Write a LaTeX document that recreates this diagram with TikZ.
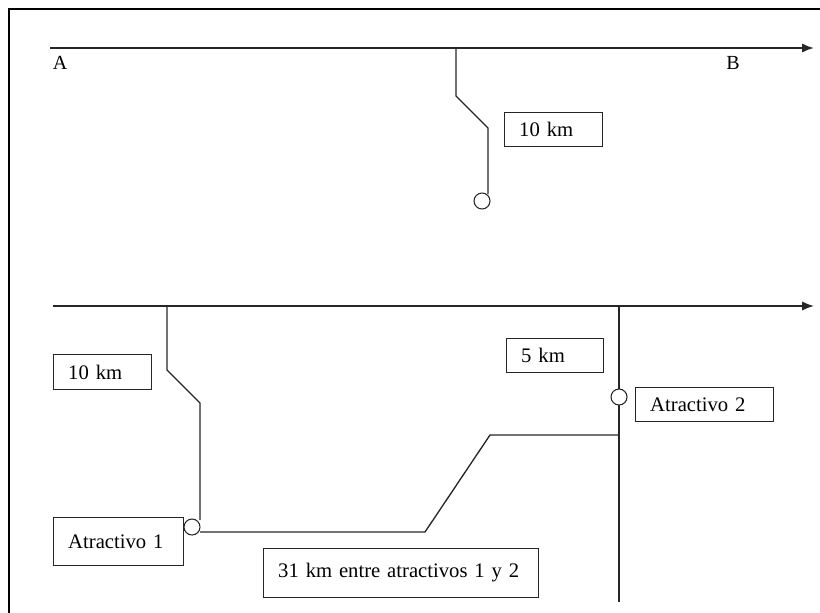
\documentclass[tikz,border=0pt]{standalone}
\usepackage{fontspec}
\setmainfont{Liberation Serif}
\usetikzlibrary{arrows.meta}
\definecolor{ink}{HTML}{262626}
\newcommand{\boxfont}{\fontsize{15.5pt}{18pt}\selectfont}
\newcommand{\abfont}{\fontsize{15pt}{17pt}\selectfont}
\begin{document}
\begin{tikzpicture}[x=0.75pt,y=-0.75pt,
  road/.style={draw=ink, line width=1pt, line join=miter},
  mainroad/.style={draw=ink, line width=1.5pt, -{Latex[length=9pt,width=7pt]}},
  bx/.style={draw=ink, line width=0.8pt, inner xsep=11pt, inner ysep=0pt,
    align=left, anchor=north west, font=\boxfont, text=black},
  dot/.style={circle, draw=ink, fill=white, line width=0.8pt, minimum size=12pt, inner sep=0pt},
  endlabel/.style={font=\abfont, text=black, inner sep=0pt}]
\useasboundingbox (0,0) rectangle (820,613);
% frame
\draw[line width=2pt, black] (9,613) -- (9,9) -- (820,9);

% ---- top scheme ----
\coordinate (As) at (50,48);
\coordinate (Ae) at (814,48);
\draw[mainroad] (As) -- (Ae);
\node[endlabel] (A) at (60,63) {A};
\node[endlabel] (B) at (733,63) {B};
\coordinate (t1) at (456,48);
\coordinate (t2) at (456,96);
\coordinate (t3) at (488,128);
\coordinate (t4) at (488,194);
\node[dot] (c1) at (482,201) {};
\draw[road] (t1) -- (t2) -- (t3) -- (t4);
\node[bx, text width=51.5pt, minimum height=25.5pt] (k1) at (504,112) {10 km};

% ---- bottom scheme ----
\coordinate (Bs) at (53,306);
\coordinate (Be) at (814,306);
\draw[mainroad, line width=1.3pt] (Bs) -- (Be);
% branch to attraction 1
\coordinate (u1) at (167,306);
\coordinate (u2) at (167,370);
\coordinate (u3) at (200,403);
\coordinate (u4) at (200,520);
\draw[road] (u1) -- (u2) -- (u3) -- (u4);
\node[dot] (c2) at (192,527) {};
% vertical road
\coordinate (v1) at (619,306);
\coordinate (v2) at (619,602);
\draw[road] (v1) -- (v2);
% link between attractions
\coordinate (w1) at (200,532);
\coordinate (w2) at (425,532);
\coordinate (w3) at (490,435);
\coordinate (w4) at (619,435);
\draw[road] (w1) -- (w2) -- (w3) -- (w4);
\draw[road] (w4) -- ++(0,-10);
\node[dot] (c3) at (619,397) {};

% labels
\node[bx, text width=51.5pt, minimum height=26.25pt] (k2) at (53,354) {10 km};
\node[bx, text width=50.75pt, minimum height=25.5pt] (k3) at (506,338) {5 km};
\node[bx, text width=81.5pt, minimum height=25.5pt] (at2) at (635,387) {Atractivo 2};
\node[bx, text width=75.5pt, minimum height=36pt] (at1) at (53,517) {Atractivo 1};
\node[bx, text width=184.25pt, minimum height=36.75pt] (d12) at (263,548) {31 km entre atractivos 1 y 2};
\end{tikzpicture}
\end{document}
